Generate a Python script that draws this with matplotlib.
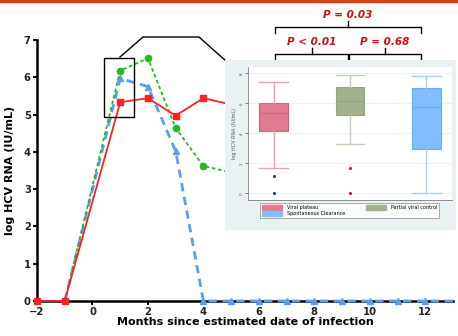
import matplotlib
matplotlib.use("Agg")
import matplotlib.pyplot as plt
from matplotlib.patches import Rectangle
from matplotlib.lines import Line2D
import matplotlib.patches as mpatches

# ---------------- data ----------------
plateau_x = [-2, -1, 1, 2, 3, 4, 5, 6]
plateau_y = [0, 0, 5.33, 5.44, 4.97, 5.44, 5.27, 5.2]
partial_x = [-1, 1, 2, 3, 4, 5, 6]
partial_y = [0, 6.18, 6.51, 4.64, 3.62, 3.45, 3.4]
clear_x = [-1, 1, 2, 3, 4, 5, 6, 7, 8, 9, 10, 11, 12, 13]
clear_y = [0, 5.97, 5.75, 4.02, 0, 0, 0, 0, 0, 0, 0, 0, 0, 0]

x_ticks = [-2, 0, 2, 4, 6, 8, 10, 12]
y_ticks = [0, 1, 2, 3, 4, 5, 6, 7]

groups = ["Viral plateau", "Partial viral control", "Spontaneous Clearance"]
box_whislo = [1.67, 3.29, 0.0]
box_q1 = [4.15, 5.22, 2.95]
box_med = [5.33, 6.17, 5.73]
box_q3 = [6.04, 7.1, 7.0]
box_whishi = [7.4, 7.9, 7.82]
box_fliers = [[1.15, 0.0], [1.67, 0.0], []]
inset_ticks = [0, 2, 4, 6, 8]

p_labels = ["P < 0.01", "P = 0.68", "P = 0.03"]

# ---------------- figure ----------------
W, H = 458, 336
fig = plt.figure(figsize=(W / 100, H / 100), dpi=100)
fig.patch.set_facecolor("white")

def fx(px):
    return px / W

def fy(py):
    return 1 - py / H

# top orange rule
fig.add_artist(Line2D([0, 1], [fy(1), fy(1)], color="#d2451a", lw=2.5, transform=fig.transFigure))

# main axes
ax = fig.add_axes([fx(37), fy(301), fx(453) - fx(37), fy(40) - fy(301)])
ax.set_xlim(-2, 13)
ax.set_ylim(0, 7)
for s in ["top", "right"]:
    ax.spines[s].set_visible(False)
for s in ["left", "bottom"]:
    ax.spines[s].set_linewidth(1.8)
ax.set_xticks(x_ticks)
ax.set_yticks(y_ticks)
ax.tick_params(direction="out", length=3, width=1.5, labelsize=7.2, pad=1.5)
for lab in ax.get_xticklabels() + ax.get_yticklabels():
    lab.set_fontweight("bold")
    lab.set_color("#222222")
ax.set_xlabel("Months since estimated date of infection", fontsize=8, fontweight="bold", labelpad=0)
ax.set_ylabel("log HCV RNA (IU/mL)", fontsize=8, fontweight="bold", labelpad=6)

ax.plot(clear_x, clear_y, color="#5a9df5", lw=2, ls=(0, (3, 2)), marker="^", ms=4.5,
        markevery=list(range(1, len(clear_x) - 1)), clip_on=False, zorder=3)
ax.plot(partial_x, partial_y, color="#22bb22", lw=1.3, ls=(0, (2, 1.5)), marker="o", ms=4.5,
        markevery=list(range(1, len(partial_x))), clip_on=False, zorder=4)
ax.plot(plateau_x, plateau_y, color="#ff2020", lw=1.3, marker="s", ms=5,
        clip_on=False, zorder=5)

# zoom rectangle
ax.add_patch(Rectangle((0.41, 4.93), 1.08, 1.58, fill=False, ec="black", lw=1, zorder=6))

# connector lines (figure pixels)
cx = [120, 143, 199, 226]
cy = [57, 37, 37, 61]
fig.add_artist(Line2D([fx(v) for v in cx], [fy(v) for v in cy], color="black", lw=1,
                      transform=fig.transFigure))

# inset background panel
fig.add_artist(Rectangle((fx(225), fy(230)), fx(456) - fx(225), fy(60) - fy(230),
                         transform=fig.transFigure, facecolor="#e9f1f2", edgecolor="none", zorder=2))

# inset axes
ins = fig.add_axes([fx(248), fy(200), fx(452) - fx(248), fy(67) - fy(200)], zorder=3)
ins.set_facecolor("white")

face = ["#e07a92", "#a3b18d", "#80bdfc"]
edge = ["#d6637f", "#95a57e", "#6aaaf5"]
wcol = ["#eca0b2", "#c5cebb", "#a6d0fb"]
fcol = ["#1f4e8c", "#b0304a", "#1f4e8c"]
stats = []
for i in range(3):
    stats.append(dict(whislo=box_whislo[i], q1=box_q1[i], med=box_med[i], q3=box_q3[i],
                      whishi=box_whishi[i], fliers=box_fliers[i]))
for i in range(3):
    ins.bxp([stats[i]], positions=[i + 1], widths=0.38, patch_artist=True, manage_ticks=False,
            boxprops=dict(facecolor=face[i], edgecolor=edge[i], lw=0.8),
            medianprops=dict(color=edge[i], lw=1),
            whiskerprops=dict(color=wcol[i], lw=1),
            capprops=dict(color=wcol[i], lw=1),
            flierprops=dict(marker="o", ms=1.3, mfc=fcol[i], mec=fcol[i]),
            capwidths=0.38)

ins.set_xlim(0.66, 3.34)
ins.set_ylim(-0.45, 8.42)
ins.set_yticks(inset_ticks)
ins.set_yticklabels([str(v) for v in inset_ticks], rotation=90, va="center", fontsize=3, color="#555555")
ins.set_xticks([])
ins.tick_params(axis="y", length=2, width=0.5, pad=1, colors="#555555")
ins.set_ylabel("log HCV RNA (IU/mL)", fontsize=3.5, color="#555555", labelpad=2)
for s in ["top", "right"]:
    ins.spines[s].set_visible(False)
for s in ["left", "bottom"]:
    ins.spines[s].set_linewidth(0.5)
    ins.spines[s].set_color("#666666")
ins.grid(axis="y", color="#eeeeee", lw=0.6)
ins.set_axisbelow(True)

handles = [mpatches.Patch(facecolor=face[i], edgecolor=face[i]) for i in range(3)]
leg = fig.legend(handles=[handles[0], handles[2], handles[1]],
                 labels=[groups[0], groups[2], groups[1]],
                 loc="upper left", bbox_to_anchor=(fx(260), fy(203)), ncol=2,
                 fontsize=3.5, frameon=True, fancybox=False, edgecolor="#888888",
                 handlelength=4.2, handleheight=1.1, columnspacing=4.2, borderpad=0.4,
                 labelspacing=0.25, handletextpad=1.0, borderaxespad=0)
leg.get_frame().set_linewidth(0.6)
leg.set_zorder(5)

# significance brackets
red = "#cc1111"
def bracket(x0, x1, yh, yend, ytip, text, ytext):
    xm = (x0 + x1) / 2
    fig.add_artist(Line2D([fx(x0), fx(x0), fx(x1), fx(x1)],
                          [fy(yend), fy(yh), fy(yh), fy(yend)],
                          color="black", lw=1, transform=fig.transFigure, zorder=1))
    fig.add_artist(Line2D([fx(xm), fx(xm)], [fy(yh), fy(ytip)], color="black", lw=1,
                          transform=fig.transFigure, zorder=1))
    fig.text(fx(xm), fy(ytext), text, color=red, fontsize=7.5, fontweight="bold",
             fontstyle="italic", ha="center", va="center")

bracket(275, 348, 54, 61, 48, p_labels[0], 42)
bracket(349, 421, 54, 61, 48, p_labels[1], 42)
bracket(275, 421, 27, 33, 21, p_labels[2], 15)

fig.savefig("out.png", dpi=100)
